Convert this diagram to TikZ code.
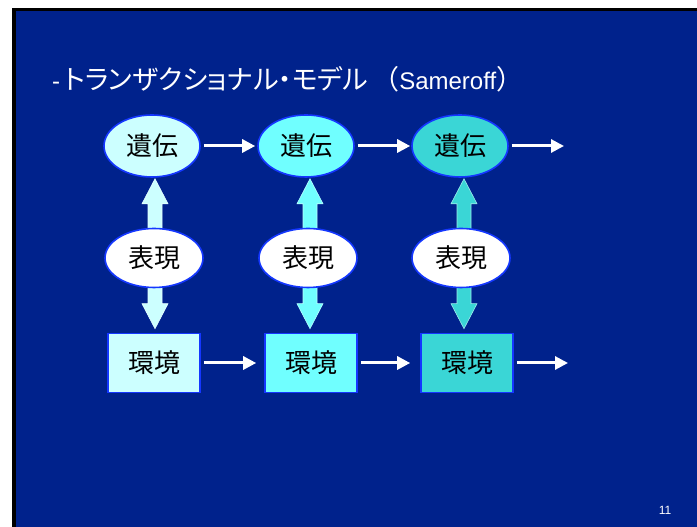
\documentclass[tikz,border=0pt]{standalone}
\usepackage{fontspec}
\setmainfont{Liberation Sans}
\newfontfamily\jp[RawFeature=+palt]{Noto Sans CJK JP}
\newfontfamily\jpn{Noto Sans CJK JP}
\usetikzlibrary{calc,arrows.meta,shapes.geometric}
\pgfdeclarelayer{bottom}
\pgfdeclarelayer{background}
\pgfsetlayers{bottom,background,main}
\definecolor{slide}{RGB}{0,34,140}
\definecolor{edgeblue}{RGB}{20,55,255}
\definecolor{cA}{RGB}{204,255,255}
\definecolor{cB}{RGB}{112,255,255}
\definecolor{cC}{RGB}{58,214,214}
\tikzset{
  gene/.style={ellipse, draw=edgeblue, line width=1.6pt, minimum width=96pt, minimum height=62pt, inner sep=0pt, font=\jpn\fontsize{26}{26}\selectfont, text=black},
  expr/.style={ellipse, draw=edgeblue, fill=white, line width=1.6pt, minimum width=98pt, minimum height=59pt, inner sep=0pt, font=\jpn\fontsize{26}{26}\selectfont, text=black},
  env/.style={rectangle, draw=edgeblue, line width=1.6pt, minimum width=92pt, minimum height=59pt, inner sep=0pt, font=\jpn\fontsize{26}{26}\selectfont, text=black},
  flow/.style={white, line width=3pt, -{Triangle[length=13pt,width=13pt]}},
}
\newcommand\blk[3]{%
  \begin{pgfonlayer}{background}
  \path (#2) coordinate (T) ($(#2)!25pt!(#1)$) coordinate (H) (#1) coordinate (B);
  \filldraw[fill=#3, draw=white!50!#3, line width=0.6pt] (T)
    -- ($(H)!13pt!90:(T)$) -- ($(H)!7pt!90:(T)$) -- ($(B)!7pt!90:(H)$)
    -- ($(B)!7pt!-90:(H)$) -- ($(H)!7pt!-90:(T)$) -- ($(H)!13pt!-90:(T)$) -- cycle;
  \end{pgfonlayer}}
\begin{document}
\begin{tikzpicture}[x=1pt,y=1pt]
\useasboundingbox (0,0) rectangle (697,527);
\begin{pgfonlayer}{bottom}
\fill[white] (0,0) rectangle (697,527);
\fill[black] (12,0) rectangle (697,519);
\fill[slide] (16,0) rectangle (697,516);
\end{pgfonlayer}
\node[anchor=west, text=white, inner sep=0pt] (title) at (52,448)
  {\fontsize{24}{24}\selectfont -\,{\jp\fontsize{27}{27}\selectfont トランザクショナル・モデル\hspace{4pt}{\jpn （}}Sameroff{\jpn\fontsize{27}{27}\selectfont ）}};
\node[text=white, font=\fontsize{12}{12}\selectfont, inner sep=0pt] (pg) at (665,17) {11};
% genes
\node[gene, fill=cA] (g1) at (152,381) {遺伝};
\node[gene, fill=cB] (g2) at (306,381) {遺伝};
\node[gene, fill=cC] (g3) at (460,381) {遺伝};
% expression
\node[expr] (h1) at (154,269) {表現};
\node[expr] (h2) at (308,269) {表現};
\node[expr] (h3) at (461,269) {表現};
% environment
\node[env, fill=cA] (e1) at (154,164) {環境};
\node[env, fill=cB] (e2) at (311,164) {環境};
\node[env, fill=cC] (e3) at (467,164) {環境};
\coordinate (gout) at (564,381);
\coordinate (eout) at (568,164);
% horizontal flows
\draw[flow, shorten <=3pt, shorten >=2pt] (g1.east) -- (g2.west);
\draw[flow, shorten <=3pt, shorten >=1pt] (g2.east) -- (g3.west);
\draw[flow, shorten <=3pt] (g3.east) -- (gout);
\draw[flow, shorten <=3pt, shorten >=8pt] (e1.east) -- (e2.west);
\draw[flow, shorten <=3pt, shorten >=10pt] (e2.east) -- (e3.west);
\draw[flow, shorten <=3pt] (e3.east) -- (eout);
% block arrows
\blk{$(h1.north)+(1,-6)$}{$(h1.north |- g1.south)+(1,-1)$}{cA}
\blk{$(h2.north)+(2,-6)$}{$(h2.north |- g2.south)+(2,-1)$}{cB}
\blk{$(h3.north)+(3,-6)$}{$(h3.north |- g3.south)+(3,-1)$}{cC}
\blk{$(h1.south)+(1,6)$}{$(h1.south |- e1.north)+(1,4)$}{cA}
\blk{$(h2.south)+(2,6)$}{$(h2.south |- e2.north)+(2,4)$}{cB}
\blk{$(h3.south)+(3,6)$}{$(h3.south |- e3.north)+(3,4)$}{cC}
\end{tikzpicture}
\end{document}
